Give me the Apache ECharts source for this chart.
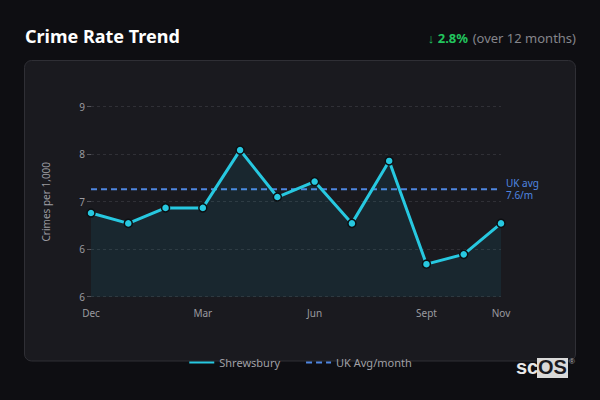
<!DOCTYPE html>
<html>
<head>
<meta charset="utf-8">
<script src="https://cdn.jsdelivr.net/npm/echarts@6/dist/echarts.min.js"></script>
<style>
html,body{margin:0;padding:0;background:#0e0e12;}
#c{width:600px;height:400px;}
</style>
</head>
<body>
<div id="c"></div>
<script>
const months = ['Dec','Jan','Feb','Mar','Apr','May','Jun','Jul','Aug','Sept','Oct','Nov'];
const shrewsbury = [7.14, 6.94, 7.24, 7.24, 8.36, 7.45, 7.75, 6.94, 8.15, 6.15, 6.34, 6.94];
const ukAvgValue = 7.6;
const ukAvg = months.map(() => ukAvgValue);
const yMin = 5.52, yMax = 9.2, yStep = 0.92;
const changePct = '2.8%';

const chart = echarts.init(document.getElementById('c'), null, {renderer: 'svg'});
const font = '"Noto Sans", "Open Sans", sans-serif';
chart.setOption({
  backgroundColor: '#0e0e12',
  animation: false,
  textStyle: {fontFamily: font},
  graphic: [
    {type: 'rect', z: -10, shape: {x: 24.5, y: 60.5, width: 551, height: 300.5, r: 7},
     style: {fill: '#1a1a1f', stroke: '#2f2f35', lineWidth: 1}},
    {type: 'rect', left: 537, top: 358, shape: {width: 31, height: 20}, style: {fill: '#d9d9d9'}},
    {type: 'text', left: 516, top: 357, style: {text: 'sc', font: 'bold 20px "Liberation Sans", Arial, sans-serif', fill: '#e8e8e8'}},
    {type: 'text', left: 538, top: 357, style: {text: 'OS', font: 'bold 20px "Liberation Sans", Arial, sans-serif', fill: '#1a1a1f'}},
    {type: 'text', left: 569, top: 357, style: {text: '®', font: '8px sans-serif', fill: '#aaaaaa'}}
  ],
  title: [
    {text: 'Crime Rate Trend', left: 20, top: 22,
     textStyle: {color: '#ffffff', fontSize: 18, fontWeight: 'bold', fontFamily: font}},
    {text: '{g|↓ ' + changePct + '} {m|(over 12 months)}', right: 19, top: 24,
     textStyle: {fontWeight: 'normal', rich: {
       g: {color: '#22c55e', fontSize: 13, fontWeight: 'bold', fontFamily: font},
       m: {color: '#85858b', fontSize: 13, fontWeight: 'normal', fontFamily: font}
     }}}
  ],
  legend: {
    bottom: 27, left: 'center', itemWidth: 25, itemHeight: 10, itemGap: 25,
    textStyle: {color: '#a0a0a6', fontSize: 11},
    itemStyle: {opacity: 0},
    data: ['Shrewsbury', 'UK Avg/month']
  },
  grid: {left: 91, right: 99, top: 106.7, bottom: 103.3},
  xAxis: {
    type: 'category', data: months, boundaryGap: false,
    axisLine: {show: false}, axisTick: {show: false},
    axisLabel: {color: '#9a9aa0', fontSize: 10, margin: 11,
      interval: (i) => i % 3 === 0 || i === months.length - 1}
  },
  yAxis: {
    type: 'value', min: yMin, max: yMax, interval: yStep,
    name: 'Crimes per 1,000', nameLocation: 'middle', nameGap: 40,
    nameTextStyle: {color: '#9a9aa0', fontSize: 10},
    axisLine: {show: false},
    axisTick: {show: true, length: 4, lineStyle: {color: '#55555c'}},
    axisLabel: {color: '#9a9aa0', fontSize: 10, margin: 6, formatter: (v) => String(Math.round(v))},
    splitLine: {lineStyle: {color: '#303036', type: [3, 3]}}
  },
  series: [
    {
      name: 'Shrewsbury', type: 'line', data: shrewsbury,
      symbol: 'circle', symbolSize: 8, showAllSymbol: true,
      lineStyle: {color: '#27c8e0', width: 3},
      itemStyle: {color: '#27c8e0', borderColor: '#0c0f12', borderWidth: 1.5},
      areaStyle: {color: 'rgba(30,200,225,0.12)'},
      z: 3
    },
    {
      name: 'UK Avg/month', type: 'line', data: ukAvg,
      symbol: 'none',
      lineStyle: {color: '#4f86e0', width: 2, type: [6, 4]},
      itemStyle: {color: '#4f86e0'},
      endLabel: {show: true, formatter: 'UK avg\n' + ukAvgValue + '/m', color: '#4f86e0', fontSize: 10, lineHeight: 12, distance: 5},
      z: 2
    }
  ]
});
</script>
</body>
</html>
